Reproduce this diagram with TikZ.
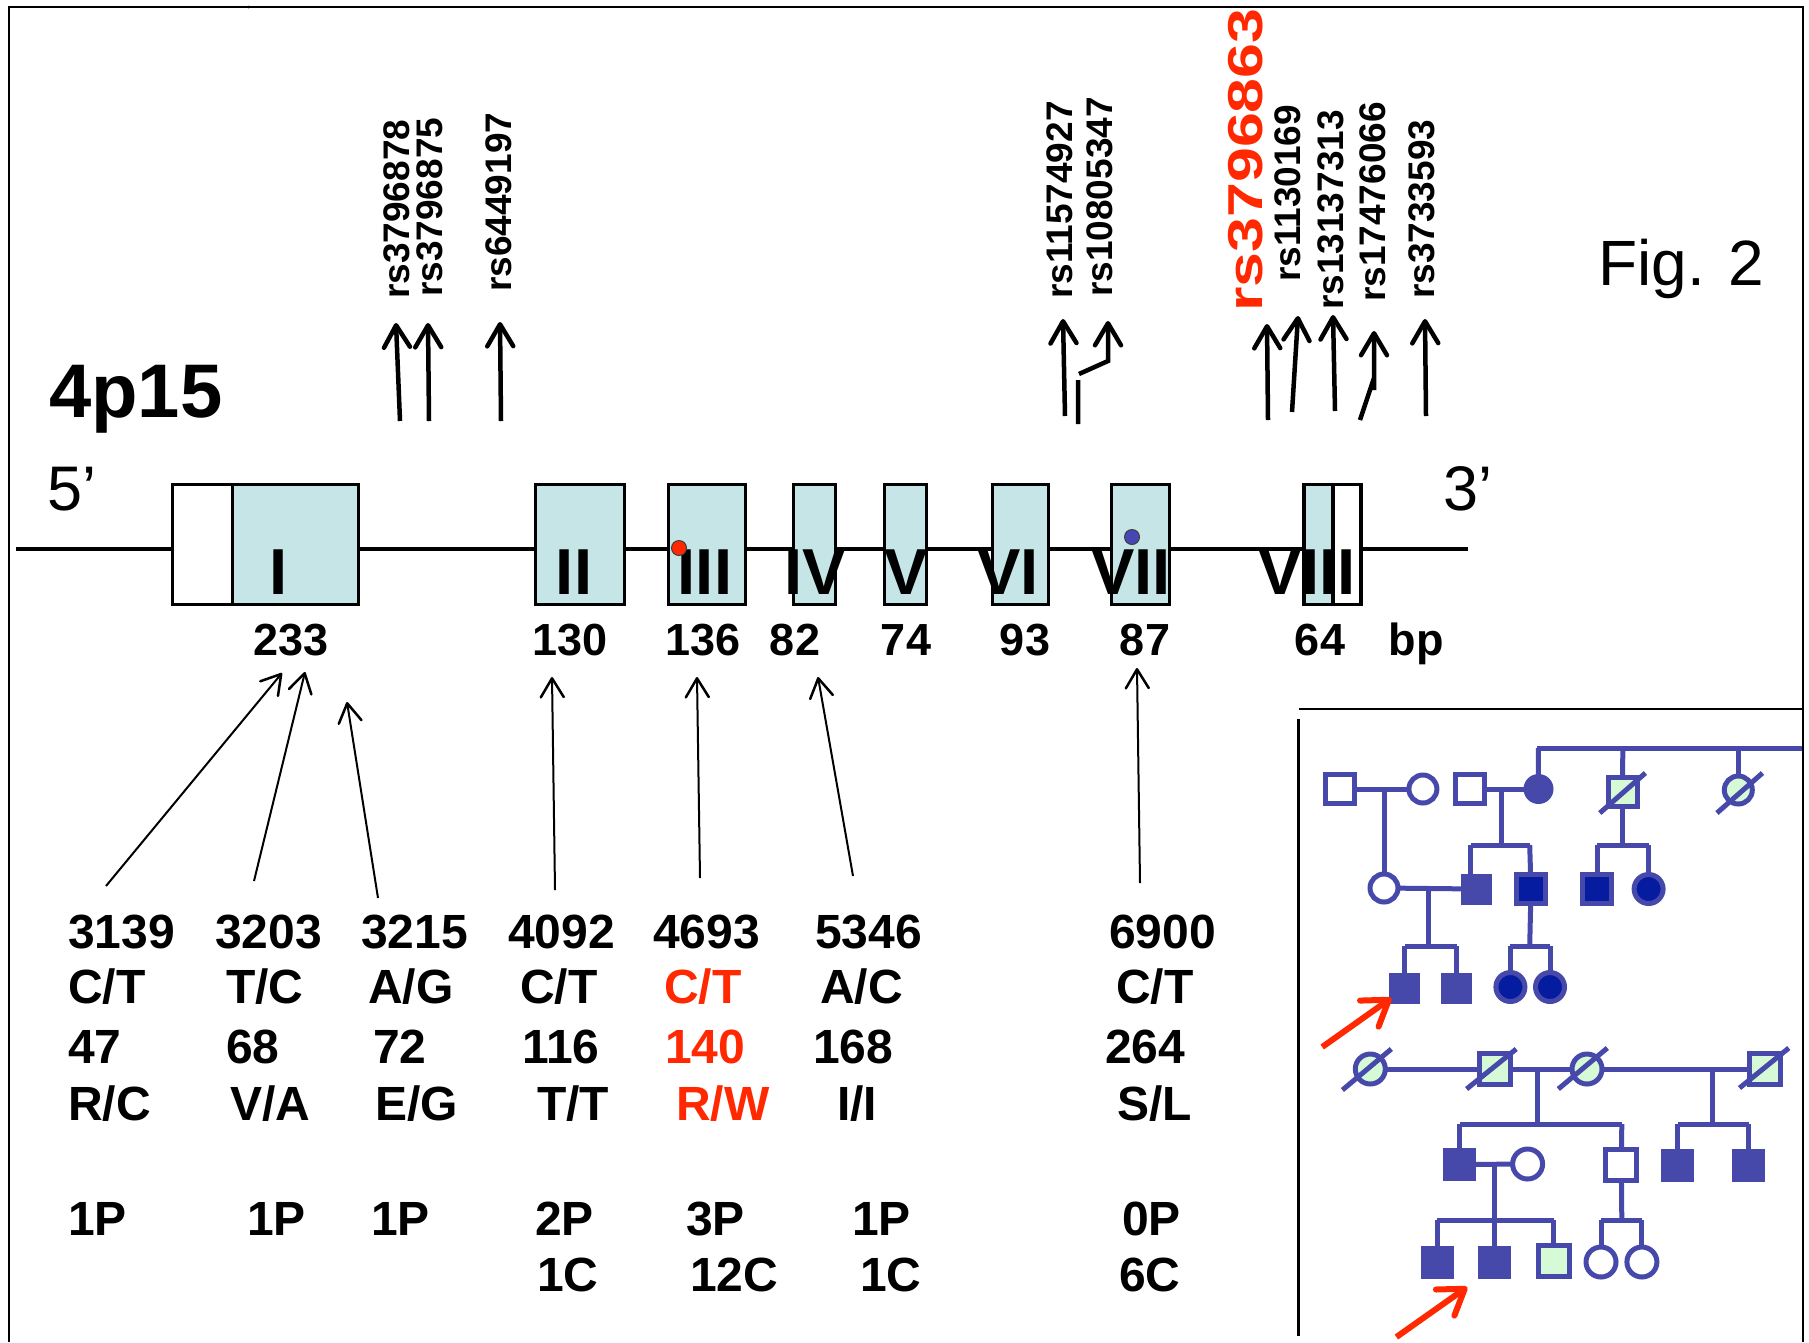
\documentclass[tikz,border=0pt]{standalone}
\usepackage{fontspec}
\usepackage{graphicx}
\setmainfont{Liberation Sans}
\usetikzlibrary{arrows.meta,backgrounds}
\newcommand\setfs[1]{\fontsize{#1}{#1}\selectfont}
\definecolor{snpred}{RGB}{255,40,0}
\definecolor{exonfill}{RGB}{197,229,231}
\definecolor{pedblue}{RGB}{70,73,170}
\definecolor{pednavy}{RGB}{5,28,160}
\definecolor{pedgreen}{RGB}{214,250,214}
\definecolor{dotblue}{RGB}{70,70,180}
\begin{document}
\begin{tikzpicture}[x=1pt,y=-1pt,
  frame/.style={line width=2.5pt, draw=black},
  exon/.style={draw=black, line width=3.5pt, fill=exonfill, inner sep=0pt, minimum height=120pt},
  utr/.style={exon, fill=white},
  numeral/.style={font=\bfseries\setfs{65}, inner sep=0pt, anchor=base},
  exsize/.style={font=\bfseries\setfs{45}, inner sep=0pt, anchor=base},
  snp/.style={font=\bfseries\setfs{37}, inner sep=0pt, anchor=base west, rotate=90},
  snparrow/.style={line width=4.5pt, -{Straight Barb[length=22pt, width=26pt, round]}},
  exarrow/.style={line width=2pt, -{Straight Barb[length=19pt, width=23pt, line width=2.5pt, round]}},
  cell/.style={font=\bfseries\setfs{48}, inner sep=0pt, anchor=base west},
  redcell/.style={cell, text=snpred},
  ped/.style={draw=pedblue, line width=5pt},
  sqopen/.style={rectangle, draw=pedblue, line width=5pt, fill=white, minimum size=29pt, inner sep=0pt},
  sqfill/.style={rectangle, fill=pedblue, minimum size=31pt, inner sep=0pt},
  sqdark/.style={sqopen, fill=pednavy},
  sqgreen/.style={sqopen, fill=pedgreen},
  ciropen/.style={circle, draw=pedblue, line width=5pt, fill=white, minimum size=28pt, inner sep=0pt},
  cirfill/.style={circle, fill=pedblue, minimum size=30pt, inner sep=0pt},
  cirdark/.style={ciropen, fill=pednavy, minimum size=29pt},
  cirgreen/.style={ciropen, fill=pedgreen},
  redarrow/.style={draw=snpred, line width=6pt, -{Straight Barb[length=24pt, width=32pt, round]}}
]
\useasboundingbox (0,0) rectangle (1809,1342);
% outer frame
\draw[frame] (9,1342) -- (9,7) -- (1803,7) -- (1803,1342);
\node[font=\setfs{12}, inner sep=0pt] (tick) at (249,10) {’};
% pedigree frame
\draw[frame] (1298.6,709) -- (1803,709);
\draw[frame] (1298.6,719) -- (1298.6,1336);

% gene line and exons
\coordinate (g0) at (16,549);
\coordinate (g1) at (1468,549);
\draw[line width=4pt] (g0) -- (g1);
\node[utr, minimum width=59.75pt] (u1) at (202.6,544.5) {};
\node[exon, minimum width=126.25pt] (e1) at (295.6,544.5) {};
\node[exon, minimum width=89pt] (e2) at (580,544.5) {};
\node[exon, minimum width=77pt] (e3) at (707,544.5) {};
\node[exon, minimum width=42pt] (e4) at (814.5,544.5) {};
\node[exon, minimum width=42pt] (e5) at (905.5,544.5) {};
\node[exon, minimum width=56pt] (e6) at (1020.5,544.5) {};
\node[exon, minimum width=58pt] (e7) at (1140.5,544.5) {};
\node[exon, minimum width=29.25pt] (e8) at (1318.4,544.5) {};
\node[utr, minimum width=28.25pt] (u8) at (1347.1,544.5) {};

\node[numeral] (n1) at (278.5,594) {I};
\node[numeral] (n2) at (574,594) {II};
\node[numeral] (n3) at (705,594) {III};
\node[numeral] (n4) at (815,594) {IV};
\node[numeral] (n5) at (906,594) {V};
\node[numeral] (n6) at (1008,594) {VI};
\node[numeral] (n7) at (1131,594) {VII};
\node[numeral] (n8) at (1307,594) {VIII};

\node[circle, fill=snpred, draw=black!75, line width=1pt, minimum size=15pt, inner sep=0pt] (d3) at (679,548) {};
\node[circle, fill=dotblue, draw=black!75, line width=1pt, minimum size=15pt, inner sep=0pt] (d7) at (1132,537) {};

\node[exsize] (z1) at (291,655) {233};
\node[exsize] (z2) at (570,655) {130};
\node[exsize] (z3) at (703,655) {136};
\node[exsize] (z4) at (795,655) {82};
\node[exsize] (z5) at (906,655) {74};
\node[exsize] (z6) at (1025,655) {93};
\node[exsize] (z7) at (1145,655) {87};
\node[exsize] (z8) at (1320,655) {64};
\node[exsize] (bp) at (1416,655) {bp};

% big labels
\node[font=\bfseries\setfs{76}, inner sep=0pt, anchor=base west] (chr) at (49,417) {4p15};
\node[font=\setfs{63}, inner sep=0pt, anchor=base west] (five) at (47,510) {5’};
\node[font=\setfs{63}, inner sep=0pt, anchor=base west] (three) at (1443,510) {3’};
\node[font=\setfs{64}, inner sep=0pt, anchor=base west] (fig) at (1598,285) {Fig. 2};

% SNP labels
\node[snp] (s1) at (409,299) {rs3796878};
\node[snp] (s2) at (442,297) {rs3796875};
\node[snp] (s3) at (511,292) {rs6449197};
\node[snp] (s4) at (1072,299) {rs11574927};
\node[snp] (s5) at (1112,297) {rs10805347};
\node[snp, font=\bfseries\setfs{49}, text=snpred] (s6) at (1262,312) {\scalebox{1.28}[1]{rs3796863}};
\node[snp] (s7) at (1300,282) {rs1130169};
\node[snp] (s8) at (1343,310) {rs13137313};
\node[snp] (s9) at (1385,302) {rs17476066};
\node[snp] (s10) at (1434,299) {rs3733593};

% SNP arrows
\coordinate (a1b) at (400,421);  \coordinate (a1t) at (396,323);
\coordinate (a2b) at (429,421);  \coordinate (a2t) at (428,323);
\coordinate (a3b) at (501,421);  \coordinate (a3t) at (500,322);
\coordinate (a4b) at (1065,416); \coordinate (a4t) at (1063,319);
\coordinate (a5b) at (1078,424); \coordinate (a5t) at (1108,321);
\coordinate (a6b) at (1268,420); \coordinate (a6t) at (1267,324);
\coordinate (a7b) at (1292,412); \coordinate (a7t) at (1298,316);
\coordinate (a8b) at (1335,411); \coordinate (a8t) at (1333,315);
\coordinate (a9b) at (1360,420); \coordinate (a9t) at (1374,331);
\coordinate (a10b) at (1426,416); \coordinate (a10t) at (1425,319);
\draw[snparrow] (a1b) -- (a1t);
\draw[snparrow] (a2b) -- (a2t);
\draw[snparrow] (a3b) -- (a3t);
\draw[snparrow] (a4b) -- (a4t);
\draw[snparrow] (a5b) -- (1078,380) (1079,374) -- (1108,361) -- (a5t);
\draw[snparrow] (a6b) -- (a6t);
\draw[snparrow] (a7b) -- (a7t);
\draw[snparrow] (a8b) -- (a8t);
\draw[snparrow] (a9b) -- (1374,378) (1374,390) -- (a9t);
\draw[snparrow] (a10b) -- (a10t);

% table
\node[cell] (r1c1) at (68,948) {3139};
\node[cell] (r1c2) at (215,948) {3203};
\node[cell] (r1c3) at (361,948) {3215};
\node[cell] (r1c4) at (508,948) {4092};
\node[cell] (r1c5) at (653,948) {4693};
\node[cell] (r1c6) at (815,948) {5346};
\node[cell] (r1c7) at (1109,948) {6900};

\node[cell] (r2c1) at (68,1003) {C/T};
\node[cell] (r2c2) at (226,1003) {T/C};
\node[cell] (r2c3) at (368,1003) {A/G};
\node[cell] (r2c4) at (520,1003) {C/T};
\node[redcell] (r2c5) at (664,1003) {C/T};
\node[cell] (r2c6) at (820,1003) {A/C};
\node[cell] (r2c7) at (1116,1003) {C/T};

\node[cell] (r3c1) at (68,1063) {47};
\node[cell] (r3c2) at (226,1063) {68};
\node[cell] (r3c3) at (373,1063) {72};
\node[cell] (r3c4) at (522,1063) {116};
\node[redcell] (r3c5) at (665,1063) {140};
\node[cell] (r3c6) at (813,1063) {168};
\node[cell] (r3c7) at (1105,1063) {264};

\node[cell] (r4c1) at (68,1120) {R/C};
\node[cell] (r4c2) at (230,1120) {V/A};
\node[cell] (r4c3) at (375,1120) {E/G};
\node[cell] (r4c4) at (537,1120) {T/T};
\node[redcell] (r4c5) at (676,1120) {R/W};
\node[cell] (r4c6) at (837,1120) {I/I};
\node[cell] (r4c7) at (1117,1120) {S/L};

\node[cell] (r5c1) at (68,1235) {1P};
\node[cell] (r5c2) at (247,1235) {1P};
\node[cell] (r5c3) at (371,1235) {1P};
\node[cell] (r5c4) at (535,1235) {2P};
\node[cell] (r5c5) at (686,1235) {3P};
\node[cell] (r5c6) at (852,1235) {1P};
\node[cell] (r5c7) at (1122,1235) {0P};

\node[cell] (r6c4) at (537,1291) {1C};
\node[cell] (r6c5) at (690,1291) {12C};
\node[cell] (r6c6) at (860,1291) {1C};
\node[cell] (r6c7) at (1119,1291) {6C};

% mutation arrows
\coordinate (m1b) at (106,886);  \coordinate (m1t) at (282,673);
\coordinate (m2b) at (254,881);  \coordinate (m2t) at (305,672);
\coordinate (m3b) at (378,898);  \coordinate (m3t) at (347,702);
\coordinate (m4b) at (555,890);  \coordinate (m4t) at (552,677);
\coordinate (m5b) at (700,878);  \coordinate (m5t) at (697,677);
\coordinate (m6b) at (853,876);  \coordinate (m6t) at (818,677);
\coordinate (m7b) at (1140,883); \coordinate (m7t) at (1137,668);
\foreach \i in {1,...,7} \draw[exarrow] (m\i b) -- (m\i t);

% pedigree family 1
\node[sqopen] (f1a) at (1339.5,789) {};
\node[ciropen] (f1b) at (1422.9,789) {};
\node[sqopen] (f1c) at (1469.6,789) {};
\node[cirfill] (f1d) at (1538.5,789) {};
\node[sqgreen] (f1e) at (1622.5,792) {};
\node[cirgreen] (f1f) at (1738.3,790) {};
\node[ciropen] (f2a) at (1384,888) {};
\node[sqfill] (f2b) at (1476.4,889) {};
\node[sqdark] (f2c) at (1531,889) {};
\node[sqdark] (f2d) at (1597,889) {};
\node[cirdark] (f2e) at (1648.6,889) {};
\node[sqfill] (f3a) at (1404.8,988) {};
\node[sqfill] (f3b) at (1456.8,988) {};
\node[cirdark] (f3c) at (1510.4,987) {};
\node[cirdark] (f3d) at (1550,987) {};
\draw[ped] (1599.8,813) -- (1645.4,773);
\draw[ped] (1716.9,813) -- (1762.5,773);

% pedigree family 2
\node[cirgreen, minimum size=30pt] (g1a) at (1370.3,1069) {};
\node[sqgreen, minimum size=31pt] (g1b) at (1494.6,1069) {};
\node[cirgreen, minimum size=30pt] (g1c) at (1587,1069) {};
\node[sqgreen, minimum size=31pt] (g1d) at (1764.5,1069) {};
\node[sqfill, minimum size=33pt] (g2a) at (1459.7,1164.5) {};
\node[ciropen, minimum size=30pt] (g2b) at (1527.6,1164) {};
\node[sqopen, minimum size=31pt] (g2c) at (1621.3,1164.5) {};
\node[sqfill, minimum size=33pt] (g2d) at (1677.8,1165) {};
\node[sqfill, minimum size=33pt] (g2e) at (1748.7,1165) {};
\node[sqfill, minimum size=33pt] (g3a) at (1437.4,1262) {};
\node[sqfill, minimum size=33pt] (g3b) at (1494.4,1262) {};
\node[sqgreen, minimum size=31pt] (g3c) at (1553.6,1261) {};
\node[ciropen, minimum size=30pt] (g3d) at (1601,1262) {};
\node[ciropen, minimum size=30pt] (g3e) at (1641.9,1262) {};
\draw[ped] (1342.4,1090) -- (1391.3,1049);
\draw[ped] (1466.6,1089) -- (1516.2,1049);
\draw[ped] (1558.3,1089) -- (1607.3,1048);
\draw[ped] (1739.5,1088) -- (1788.8,1048);

\begin{pgfonlayer}{background}
  % family 1
  \draw[ped] (1537.1,748) -- (1803,748);
  \draw[ped] (1538.3,748) -- (f1d.center);
  \draw[ped] (1622.8,748) -- (f1e.center);
  \draw[ped] (1738.3,748) -- (f1f.center);
  \draw[ped] (f1a.center) -- (f1b.center);
  \draw[ped] (f1c.center) -- (f1d.center);
  \draw[ped] (f2a.center |- f1a.center) -- (f2a.center);
  \draw[ped] (1501.7,789) -- (1501.7,845);
  \draw[ped] (1470.6,845) -- (1529.7,845);
  \draw[ped] (1470.6,845) -- (1470.6,880);
  \draw[ped] (1529.7,845) -- (f2c.center);
  \draw[ped] (1622.8,792) -- (1622.8,845);
  \draw[ped] (1597,845) -- (1648.6,845);
  \draw[ped] (1597,845) -- (f2d.center);
  \draw[ped] (1648.6,845) -- (f2e.center);
  \draw[ped] (f2a.center) -- (f2b.center);
  \draw[ped] (1428.4,888) -- (1428.4,946);
  \draw[ped] (1404.8,946) -- (1456.8,946);
  \draw[ped] (1404.8,946) -- (f3a.center);
  \draw[ped] (1456.8,946) -- (f3b.center);
  \draw[ped] (f2c.center) -- (1529.7,946);
  \draw[ped] (1510.4,946) -- (1550,946);
  \draw[ped] (1510.4,946) -- (f3c.center);
  \draw[ped] (1550,946) -- (f3d.center);
  % family 2
  \draw[ped] (g1a.center) -- (g1d.center);
  \draw[ped] (1537.1,1069) -- (1537.1,1124);
  \draw[ped] (1459.7,1124) -- (1621.8,1124);
  \draw[ped] (1459.7,1124) -- (g2a.center);
  \draw[ped] (1621.8,1124) -- (g2c.center);
  \draw[ped] (1712.9,1069) -- (1712.9,1124);
  \draw[ped] (1677.8,1124) -- (1748.7,1124);
  \draw[ped] (1677.8,1124) -- (g2d.center);
  \draw[ped] (1748.7,1124) -- (g2e.center);
  \draw[ped] (g2a.center) -- (g2b.center);
  \draw[ped] (1494.2,1164) -- (1494.2,1220);
  \draw[ped] (1437.4,1220) -- (1553.6,1220);
  \draw[ped] (1437.4,1220) -- (g3a.center);
  \draw[ped] (1494.4,1220) -- (g3b.center);
  \draw[ped] (1553.6,1220) -- (g3c.center);
  \draw[ped] (g2c.center) -- (1621.8,1220);
  \draw[ped] (1601,1220) -- (1641.9,1220);
  \draw[ped] (1601,1220) -- (g3d.center);
  \draw[ped] (1641.9,1220) -- (g3e.center);
\end{pgfonlayer}

% proband arrows
\coordinate (p1b) at (1322.2,1047); \coordinate (p1t) at (1391.3,998);
\coordinate (p2b) at (1396.4,1337); \coordinate (p2t) at (1467.2,1287);
\draw[redarrow] (p1b) -- (p1t);
\draw[redarrow] (p2b) -- (p2t);
\end{tikzpicture}
\end{document}
